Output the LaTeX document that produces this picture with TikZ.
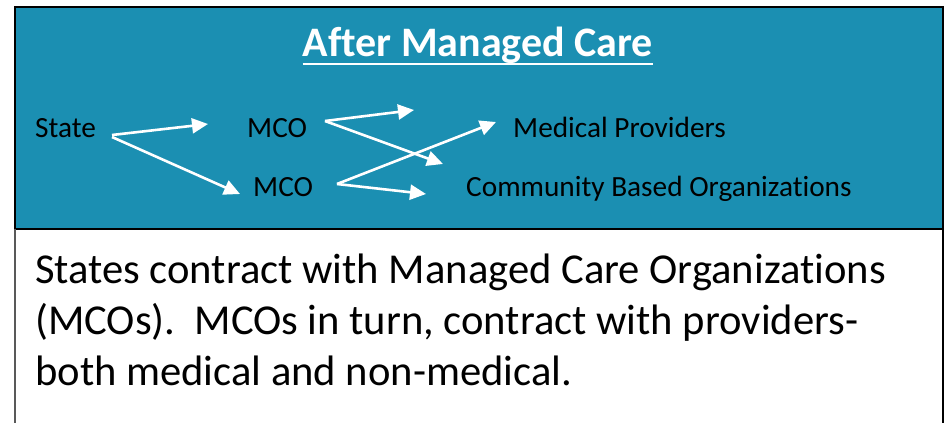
\documentclass[tikz,border=0pt]{standalone}
\usepackage{fontspec}
\setmainfont{Carlito}[Ligatures=NoCommon]
\usepackage{xcolor}
\usetikzlibrary{positioning, arrows.meta}

\definecolor{panelblue}{RGB}{27,143,178}

\begin{document}
\begin{tikzpicture}[x=1pt, y=-1pt,
        lbl/.style={inner sep=0pt, anchor=base west, font=\fontsize{29.3}{34}\selectfont},
        arr/.style={white, line width=2.6pt, -{Triangle[length=16pt, width=15pt]}}]
    \useasboundingbox (0,0) rectangle (945,423);
    \fill[white] (0,0) rectangle (945,423);

    % top panel
    \draw[black, line width=2.5pt, fill=panelblue] (15,7) rectangle (943,229);
    \node[inner sep=0pt, anchor=base, text=white, font=\fontsize{42}{48}\selectfont\bfseries] (title) at (478,56) {After Managed Care};
    \draw[white, line width=2pt] (title.base west) ++(0,8) -- ([yshift=-8pt]title.base east);

    % labels
    \node[lbl] (state) at (35,137) {State};
    \node[lbl] (mco1) at (247,137) {MCO};
    \node[lbl] (mco2) at (253,196) {MCO};
    \node[lbl] (med) at (513,137) {Medical Providers};
    \node[lbl] (cbo) at (466,196) {Community Based Organizations};

    % arrow tails and free tips
    \coordinate (state-a) at (112,135);
    \coordinate (state-b) at (112,137);
    \coordinate (mco1-out) at (325,121);
    \coordinate (mco2-out) at (337,184);
    \coordinate (tip1) at (208,124);
    \coordinate (tip2) at (240,194);
    \coordinate (tip3) at (414,110);
    \coordinate (tip4) at (443,164);
    \coordinate (tip5) at (496,122);
    \coordinate (tip6) at (426,194);

    \draw[arr] (state-a) -- (tip1);
    \draw[arr] (state-b) -- (tip2);
    \draw[arr] (mco1-out) -- (tip3);
    \draw[arr] (mco1-out) -- (tip4);
    \draw[arr] (mco2-out) -- (tip5);
    \draw[arr] (mco2-out) -- (tip6);

    % lower panel
    \draw[gray!70!black, line width=1.2pt] (15,229) -- (15,423);
    \draw[black, line width=2.5pt] (943,229) -- (943,423);
    \node[inner sep=0pt, anchor=base west, align=left, font=\fontsize{42.6}{51}\selectfont] (note) at (35,385)
        {States contract with Managed Care Organizations\\
         (MCOs).\ \ MCOs in turn, contract with providers-\\
         both medical and non-medical.};
\end{tikzpicture}
\end{document}
